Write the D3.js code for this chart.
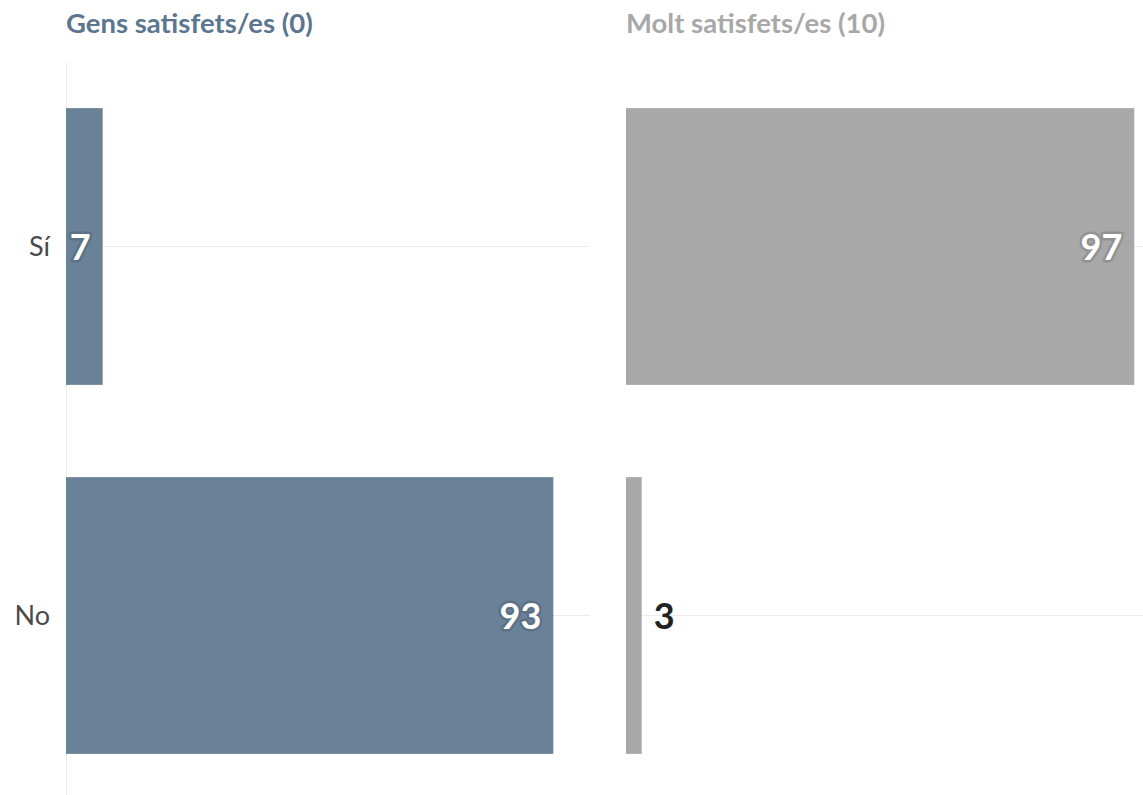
<!DOCTYPE html>
<html>
<head>
<meta charset="utf-8">
<script src="https://cdn.jsdelivr.net/npm/d3@7"></script>
<style>
  html, body { margin: 0; padding: 0; background: #fff; }
  svg { display: block; font-family: "Source Sans Pro", Lato, "Open Sans", sans-serif; }
</style>
</head>
<body>
<svg id="chart" width="1143" height="795"></svg>
<script>
// Answers per group (percent)
const categories = ["Sí", "No"];
const panels = ["Gens satisfets/es (0)", "Molt satisfets/es (10)"];
const valuesGens = [7, 93];
const valuesMolt = [97, 3];
const panelColors = ["#6a8298", "#a8a8a8"];
const titleColors = ["#5c7690", "#a8a8a8"];

const svg = d3.select("#chart");

const y = d3.scaleBand()
  .domain(categories)
  .range([62, 800])
  .paddingInner(0.25)
  .paddingOuter(0.125);

const panelDefs = [
  { title: panels[0], values: valuesGens, x0: 66, x1: 590, color: panelColors[0], titleColor: titleColors[0], axis: true },
  { title: panels[1], values: valuesMolt, x0: 626, x1: 1150, color: panelColors[1], titleColor: titleColors[1], axis: false }
];

panelDefs.forEach(p => {
  const x = d3.scaleLinear().domain([0, 100]).range([p.x0, p.x1]);
  const g = svg.append("g");

  // panel title
  g.append("text")
    .attr("x", p.x0)
    .attr("y", 33)
    .attr("fill", p.titleColor)
    .attr("font-size", 27.5)
    .attr("font-weight", 700)
    .text(p.title);

  // horizontal gridlines through each row centre
  g.selectAll("line.grid")
    .data(categories)
    .join("line")
    .attr("class", "grid")
    .attr("x1", p.x0)
    .attr("x2", Math.min(p.x1, 1143))
    .attr("y1", d => y(d) + y.bandwidth() / 2)
    .attr("y2", d => y(d) + y.bandwidth() / 2)
    .attr("stroke", "#ececec")
    .attr("stroke-width", 1);

  if (p.axis) {
    g.append("line")
      .attr("x1", p.x0 + 0.5).attr("x2", p.x0 + 0.5)
      .attr("y1", 62).attr("y2", 795)
      .attr("stroke", "#ececec");

    const yAxis = d3.axisLeft(y).tickSize(0).tickPadding(16);
    const ag = g.append("g")
      .attr("transform", `translate(${p.x0},0)`)
      .call(yAxis);
    ag.select(".domain").remove();
    ag.selectAll("text")
      .attr("font-size", 27)
      .attr("fill", "#4a4a4a")
      .attr("font-family", "\"Source Sans Pro\", Lato, \"Open Sans\", sans-serif")
      .attr("dy", "0.35em");
  }

  // bars
  g.selectAll("rect.bar")
    .data(categories.map((c, i) => ({ c, v: p.values[i] })))
    .join("rect")
    .attr("class", "bar")
    .attr("x", x(0))
    .attr("y", d => y(d.c))
    .attr("width", d => x(d.v) - x(0))
    .attr("height", y.bandwidth())
    .attr("fill", p.color);

  // value labels
  const labels = g.selectAll("text.val")
    .data(categories.map((c, i) => ({ c, v: p.values[i] })))
    .join("text")
    .attr("class", "val")
    .attr("y", d => y(d.c) + y.bandwidth() / 2)
    .attr("dy", "0.38em")
    .attr("font-size", 36)
    .attr("font-weight", 700)
    .text(d => d.v);

  labels.each(function(d) {
    const t = d3.select(this);
    const inside = d.v > 5;
    if (inside) {
      t.attr("x", x(d.v) - 12)
        .attr("text-anchor", "end")
        .attr("fill", "#fff")
        .attr("stroke", d3.color(p.color).darker(0.4))
        .attr("stroke-width", 5)
        .attr("stroke-linejoin", "round")
        .attr("paint-order", "stroke");
    } else {
      t.attr("x", x(d.v) + 12)
        .attr("text-anchor", "start")
        .attr("fill", "#222");
    }
  });
});
</script>
</body>
</html>
